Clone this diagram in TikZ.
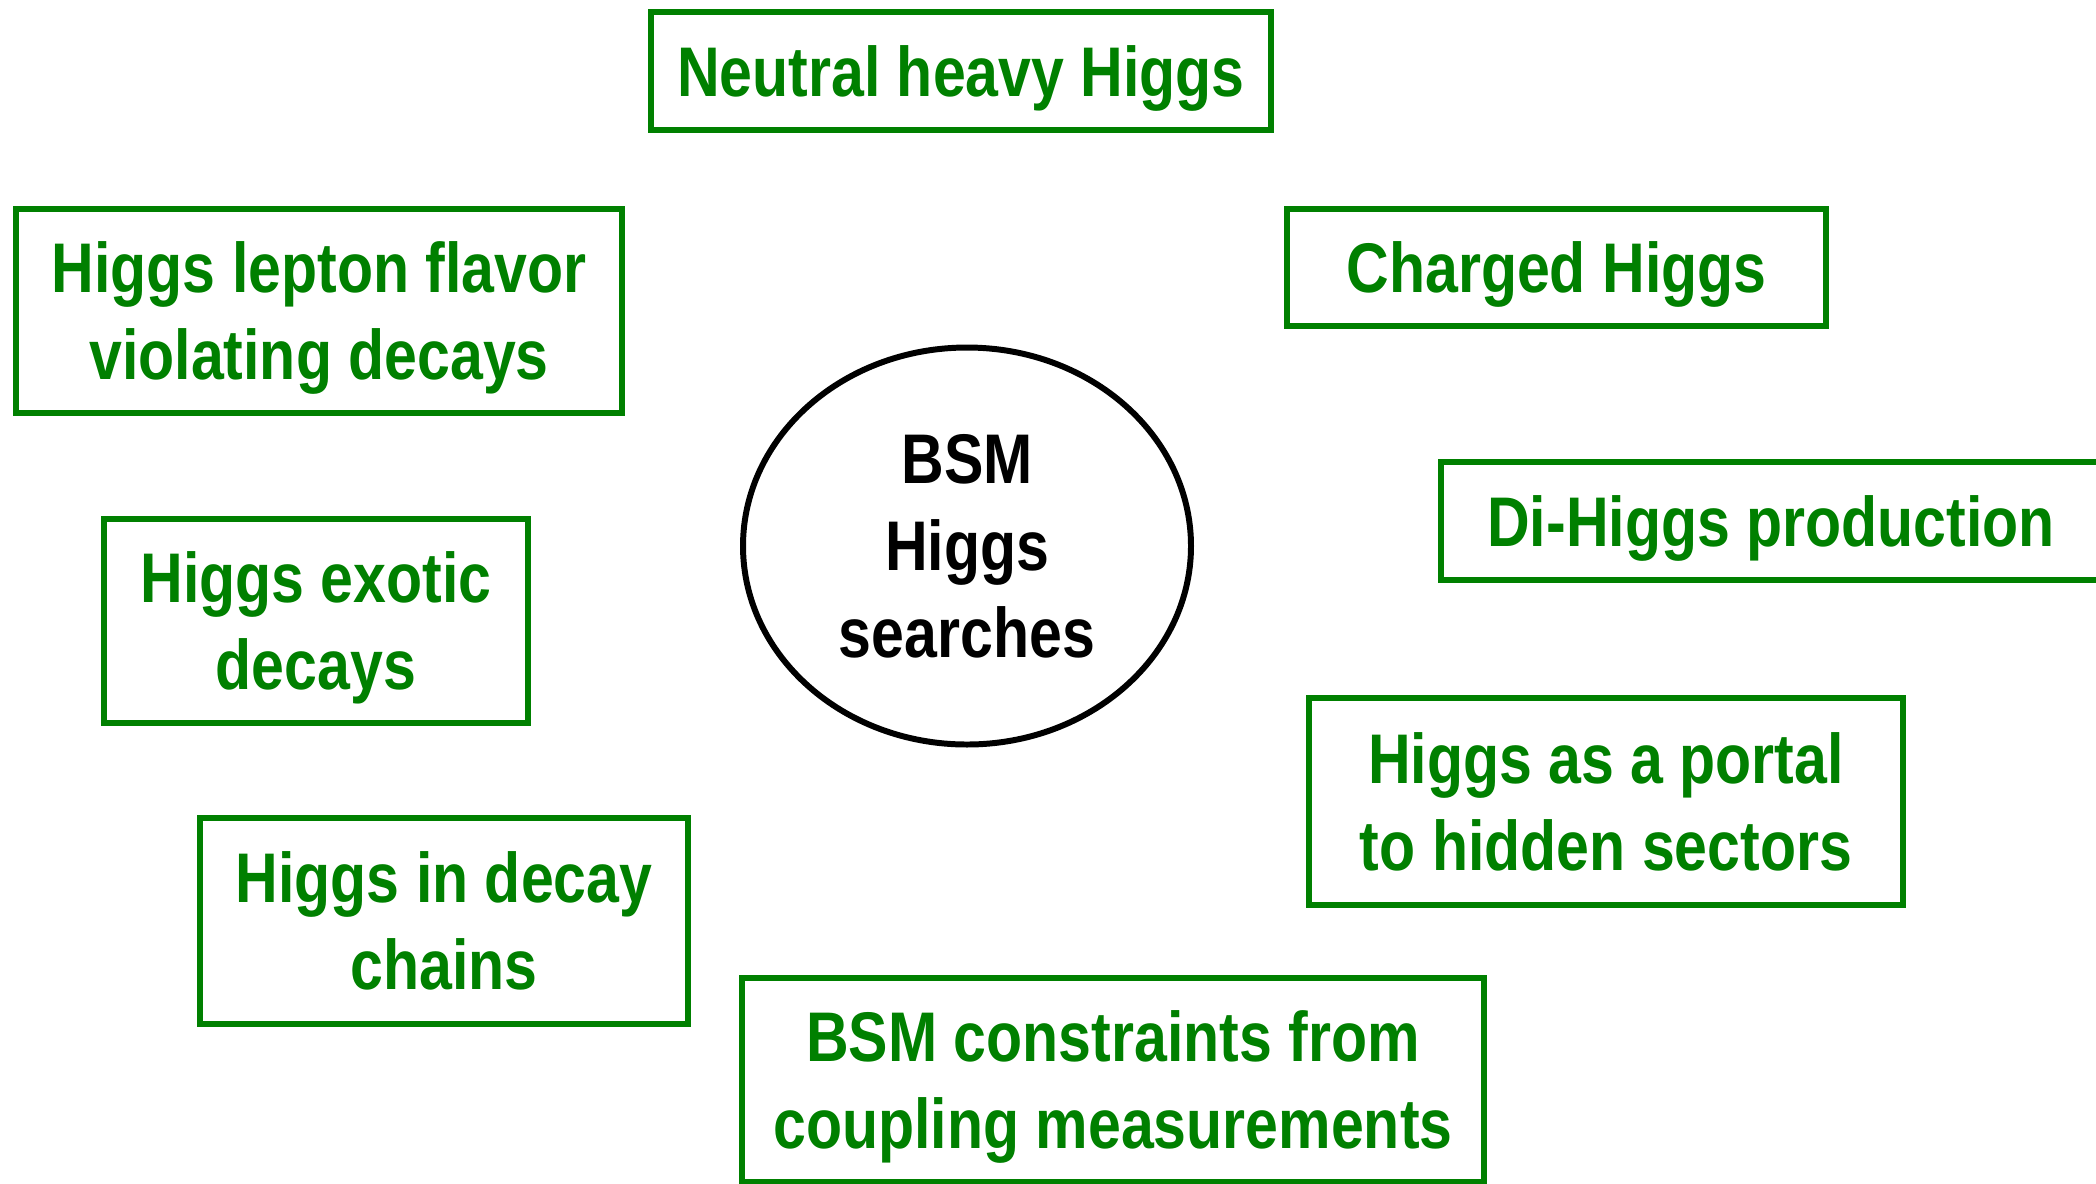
\documentclass[tikz,border=0pt]{standalone}
\usepackage{fontspec}
\usepackage{xcolor}
\usepackage{tikz}
\usetikzlibrary{shapes,positioning}
\newfontfamily\narrowfont{Liberation Sans}[FakeStretch=0.84]
\definecolor{boxgreen}{RGB}{0,128,0}
\tikzset{box/.style={rectangle,draw=boxgreen,line width=1.6pt,text=boxgreen,align=center,inner sep=0pt,text depth=0pt,
    font=\narrowfont\bfseries\fontsize{20}{24.75}\selectfont},
  ell/.style={ellipse,draw,line width=1.7pt,align=center,inner sep=0pt,text depth=-0.2cm,minimum width=4.48cm,minimum height=3.97cm,
    font=\narrowfont\bfseries\fontsize{20}{24.75}\selectfont}}

\begin{document}
\begin{tikzpicture}
    \useasboundingbox (0,0) rectangle (20.96,-11.83);
    \node[ell] (bsm)at (9.67,-5.46) {BSM\\Higgs\\searches};

    \node[box,minimum width=6.20cm,minimum height=1.18cm] (neutral)at (9.61,-0.71) {Neutral heavy Higgs};
    \node[box,minimum width=6.06cm,minimum height=2.04cm] (lfv)at (3.19,-3.11) {Higgs lepton flavor\\violating decays};
    \node[box,minimum width=5.39cm,minimum height=1.17cm] (charged)at (15.565,-2.675) {Charged Higgs};
    \node[box,minimum width=6.60cm,minimum height=1.18cm] (dihiggs)at (17.71,-5.21) {Di-Higgs production};
    \node[box,minimum width=4.24cm,minimum height=2.04cm] (exotic)at (3.16,-6.21) {Higgs exotic\\decays};
    \node[box,minimum width=4.88cm,minimum height=2.06cm] (chains)at (4.44,-9.21) {Higgs in decay\\chains};
    \node[box,minimum width=5.94cm,minimum height=2.07cm] (portal)at (16.06,-8.015) {Higgs as a portal\\to hidden sectors};
    \node[box,minimum width=7.42cm,minimum height=2.04cm] (coupling)at (11.13,-10.80) {BSM constraints from\\coupling measurements};
\end{tikzpicture}
\end{document}
